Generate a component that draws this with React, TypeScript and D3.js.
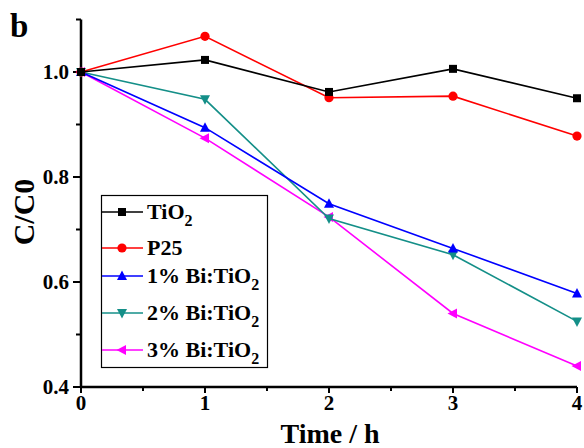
import React from "react";
import * as d3 from "d3";

const times = [0, 1, 2, 3, 4];
const tio2 = [1.0, 1.023, 0.962, 1.006, 0.95];
const p25 = [1.0, 1.068, 0.951, 0.954, 0.878];
const bi1 = [1.0, 0.894, 0.749, 0.664, 0.578];
const bi2 = [1.0, 0.948, 0.721, 0.652, 0.525];
const bi3 = [1.0, 0.874, 0.724, 0.54, 0.44];
const seriesNames = ["TiO", "P25", "1% Bi:TiO", "2% Bi:TiO", "3% Bi:TiO"];
const seriesSub = ["2", "", "2", "2", "2"];
const seriesColors = ["#000000", "#ff0000", "#0000ff", "#148f88", "#ff00ff"];
const seriesMarkers = ["square", "circle", "up", "down", "left"];
const xTicks = [0, 1, 2, 3, 4];
const yTicks = [0.4, 0.6, 0.8, 1.0];
const yMinor = [0.5, 0.7, 0.9, 1.1];
const xMinor = [0.5, 1.5, 2.5, 3.5];

const W = 584, H = 448;
const x = d3.scaleLinear().domain([0, 4]).range([81, 577]);
const y = d3.scaleLinear().domain([0.4, 1.1]).range([387, 19.5]);
const FONT = "'Liberation Serif', 'Times New Roman', serif";

function Marker({ kind, cx, cy, color }: { kind: string; cx: number; cy: number; color: string }) {
  const s = 5;
  if (kind === "square") return <rect x={cx - 4} y={cy - 4} width={8} height={8} fill={color} />;
  if (kind === "circle") return <circle cx={cx} cy={cy} r={4.6} fill={color} />;
  let pts: [number, number][] = [];
  if (kind === "up") pts = [[cx, cy - s - 0.5], [cx - s, cy + s - 1], [cx + s, cy + s - 1]];
  if (kind === "down") pts = [[cx, cy + s + 0.5], [cx - s, cy - s + 1], [cx + s, cy - s + 1]];
  if (kind === "left") pts = [[cx - s - 0.5, cy], [cx + s - 1, cy - s], [cx + s - 1, cy + s]];
  return <polygon points={pts.map((p) => p.join(",")).join(" ")} fill={color} />;
}

export default function App() {
  const data = [tio2, p25, bi1, bi2, bi3];
  const line = d3.line<number>().x((_, i) => x(times[i])).y((v) => y(v));
  const legendY = [212, 248, 276, 313, 350];
  const order = [4, 3, 2, 1, 0];
  return (
    <svg width={W} height={H} style={{ position: "absolute", left: 0, top: 0 }} fontFamily={FONT}>
      <rect width={W} height={H} fill="#fff" />
      <text x={10} y={37} fontSize={33} fontWeight="bold">b</text>
      <line x1={x(0)} x2={x(4)} y1={y(0.4)} y2={y(0.4)} stroke="#000" strokeWidth={2.5} />
      <line x1={x(0)} x2={x(0)} y1={y(0.4)} y2={y(1.1)} stroke="#000" strokeWidth={2.5} />
      {xTicks.map((t) => (
        <g key={"xt" + t}>
          <line x1={x(t)} x2={x(t)} y1={y(0.4)} y2={y(0.4) + 6} stroke="#000" strokeWidth={2} />
          <text x={x(t)} y={410} fontSize={21} fontWeight="bold" textAnchor="middle">{t}</text>
        </g>
      ))}
      {xMinor.map((t) => (
        <line key={"xm" + t} x1={x(t)} x2={x(t)} y1={y(0.4)} y2={y(0.4) + 4} stroke="#000" strokeWidth={2} />
      ))}
      {yTicks.map((t) => (
        <g key={"yt" + t}>
          <line x1={x(0) - 8} x2={x(0)} y1={y(t)} y2={y(t)} stroke="#000" strokeWidth={2} />
          <text x={x(0) - 12} y={y(t) + 7} fontSize={21} fontWeight="bold" textAnchor="end">{t.toFixed(1)}</text>
        </g>
      ))}
      {yMinor.map((t) => (
        <line key={"ym" + t} x1={x(0) - 5} x2={x(0)} y1={y(t)} y2={y(t)} stroke="#000" strokeWidth={2} />
      ))}
      <text x={330} y={443} fontSize={28} fontWeight="bold" textAnchor="middle">Time / h</text>
      <text transform={`translate(34,212) rotate(-90)`} fontSize={30} fontWeight="bold" textAnchor="middle">C/C0</text>
      {order.map((si) => (
        <g key={"s" + si}>
          <path d={line(data[si]) || ""} fill="none" stroke={seriesColors[si]} strokeWidth={1.6} />
          {data[si].map((v, i) => (
            <Marker key={i} kind={seriesMarkers[si]} cx={x(times[i])} cy={y(v)} color={seriesColors[si]} />
          ))}
        </g>
      ))}
      <rect x={101.5} y={195.5} width={166} height={172} fill="#fff" stroke="#000" strokeWidth={1.2} />
      {seriesNames.map((n, i) => (
        <g key={"lg" + i}>
          <line x1={102} x2={143} y1={legendY[i]} y2={legendY[i]} stroke={seriesColors[i]} strokeWidth={1.6} />
          <Marker kind={seriesMarkers[i]} cx={122} cy={legendY[i]} color={seriesColors[i]} />
          <text x={147} y={legendY[i] + 7} fontSize={22} fontWeight="bold">
            {n}
            {seriesSub[i] && (
              <tspan fontSize={16} dy={7}>{seriesSub[i]}</tspan>
            )}
          </text>
        </g>
      ))}
    </svg>
  );
}
